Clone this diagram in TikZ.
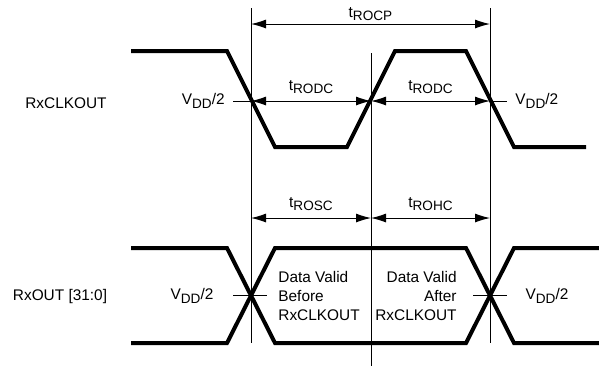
\documentclass[tikz,border=0pt]{standalone}
\usepackage{fontspec}
\setmainfont{Liberation Sans}
\usepackage{tikz}
\usetikzlibrary{arrows.meta}
\newcommand{\lowtxt}[1]{\raisebox{-0.45ex}{\fontsize{6.8}{7}\selectfont #1}}
\tikzset{
  wave/.style={line width=2pt, line join=miter},
  guide/.style={line width=0.5pt},
  span/.style={line width=0.5pt, {Latex[length=7.5pt,width=4.5pt]}-{Latex[length=7.5pt,width=4.5pt]}},
  lbl/.style={inner sep=0pt, font=\fontsize{7.7}{9.5}\selectfont}
}

\begin{document}
\begin{tikzpicture}[x=0.5pt, y=-0.5pt]
        \useasboundingbox (0,0) rectangle (599,366);
        % guide lines
        \foreach \n/\x/\ya/\yb in {l/251/8/343, m/371/53/366, r/490/8/343} {
          \coordinate (\n top) at (\x, \ya);
          \coordinate (\n bot) at (\x, \yb);
          \draw[guide] (\n top) -- (\n bot);
        }
        % clock
        \draw[wave] (131,51) -- (227,51) -- (275,147) -- (347,147) -- (395,51) -- (466,51) -- (514,147) -- (586,147);
        % data
        \draw[wave] (131,248) -- (227,248) -- (275,343) -- (466,343) -- (514,248) -- (599,248);
        \draw[wave] (131,343) -- (227,343) -- (275,248) -- (466,248) -- (514,343) -- (599,343);
        % spans
        \coordinate (p1) at (251,24);
        \coordinate (p2) at (490,24);
        \draw[span] (p1) -- (p2) node[lbl, midway, yshift=5pt] (tcp) {t\lowtxt{ROCP}};
        \foreach \y/\a/\b in {101/RODC/RODC, 218/ROSC/ROHC} {
          \coordinate (a\y) at (251,\y);
          \coordinate (b\y) at (371,\y);
          \coordinate (c\y) at (490,\y);
          \draw[span] (a\y) -- (b\y) node[lbl, midway, yshift=7pt] {t\lowtxt{\a}};
          \draw[span] (b\y) -- (c\y) node[lbl, midway, yshift=7pt] {t\lowtxt{\b}};
        }
        % VDD/2 marks
        \coordinate (ck1) at (233,101);
        \coordinate (ck2) at (507,101);
        \draw[guide] (ck1) -- (a101);
        \draw[guide] (c101) -- (ck2);
        \node[lbl, anchor=east, xshift=-4pt] (vck1) at (ck1) {V\lowtxt{DD}/2};
        \node[lbl, anchor=west, xshift=4pt] (vck2) at (ck2) {V\lowtxt{DD}/2};
        \coordinate (dt1) at (233,295);
        \coordinate (dt2) at (267,295);
        \coordinate (dt3) at (473,295);
        \coordinate (dt4) at (507,295);
        \draw[guide] (dt1) -- (dt2);
        \draw[guide] (dt3) -- (dt4);
        \node[lbl] (vdt1) at (192,296) {V\lowtxt{DD}/2};
        \node[lbl] (vdt2) at (547,296) {V\lowtxt{DD}/2};
        % names
        \node[lbl] (clk) at (66,103) {RxCLKOUT};
        \node[lbl] (dat) at (60,297) {RxOUT [31:0]};
        \node[lbl, anchor=west, align=left] (bef) at (278,296) {Data Valid\\Before\\RxCLKOUT};
        \node[lbl, anchor=east, align=right] (aft) at (457,296) {Data Valid\\After\\RxCLKOUT};
     \end{tikzpicture}
\end{document}
